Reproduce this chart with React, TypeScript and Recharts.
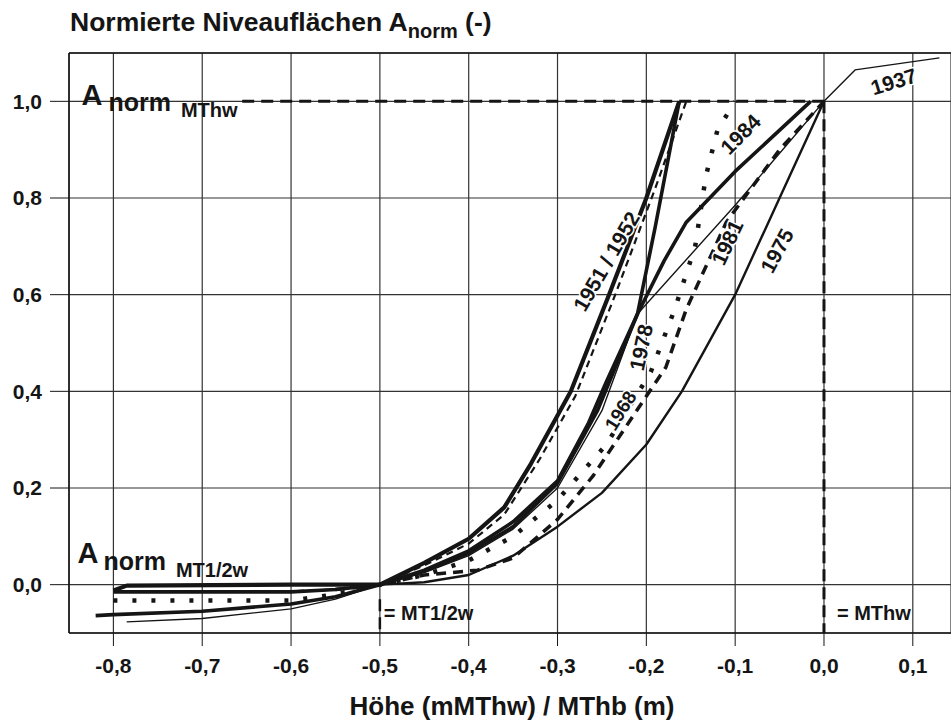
import { LineChart, Line, XAxis, YAxis, CartesianGrid, ReferenceLine, ReferenceDot } from "recharts";

type Pt = [number, number];

// axis ticks
const xTicks = [-0.8, -0.7, -0.6, -0.5, -0.4, -0.3, -0.2, -0.1, 0, 0.1];
const yTicks = [0, 0.2, 0.4, 0.6, 0.8, 1.0];

// curves: [Höhe (m), A_norm]
const c1951: Pt[] = [
  [-0.8, -0.012], [-0.785, -0.002], [-0.6, 0.0], [-0.5, 0.0], [-0.45, 0.045], [-0.4, 0.095],
  [-0.36, 0.16], [-0.33, 0.25], [-0.3, 0.35], [-0.285, 0.4], [-0.242, 0.6], [-0.2, 0.8], [-0.163, 1.0],
];
const c1952: Pt[] = [
  [-0.62, -0.015], [-0.55, -0.01], [-0.5, 0.0], [-0.45, 0.04], [-0.4, 0.085], [-0.36, 0.145],
  [-0.32, 0.26], [-0.28, 0.39], [-0.235, 0.6], [-0.19, 0.82], [-0.155, 1.0],
];
const c1978: Pt[] = [
  [-0.8, -0.015], [-0.6, -0.015], [-0.55, -0.01], [-0.5, 0.0], [-0.45, 0.03], [-0.4, 0.07],
  [-0.35, 0.13], [-0.3, 0.215], [-0.265, 0.335], [-0.245, 0.42], [-0.21, 0.56], [-0.19, 0.74], [-0.163, 1.0],
];
const c1984: Pt[] = [
  [-0.82, -0.064], [-0.8, -0.062], [-0.7, -0.055], [-0.6, -0.04], [-0.55, -0.025], [-0.5, 0.0],
  [-0.45, 0.028], [-0.4, 0.065], [-0.35, 0.12], [-0.3, 0.21], [-0.255, 0.36], [-0.21, 0.56],
  [-0.18, 0.67], [-0.155, 0.75], [-0.1, 0.855], [-0.015, 1.0],
];
const c1937: Pt[] = [
  [-0.785, -0.077], [-0.7, -0.07], [-0.6, -0.05], [-0.55, -0.03], [-0.5, 0.0], [-0.45, 0.025],
  [-0.4, 0.06], [-0.35, 0.115], [-0.3, 0.2], [-0.25, 0.36], [-0.21, 0.56], [-0.1, 0.785],
  [0.0, 1.0], [0.035, 1.065], [0.13, 1.09],
];
const c1968: Pt[] = [
  [-0.8, -0.033], [-0.6, -0.033], [-0.55, -0.02], [-0.5, 0.0], [-0.45, 0.02], [-0.4, 0.05],
  [-0.35, 0.1], [-0.3, 0.175], [-0.245, 0.29], [-0.195, 0.44], [-0.168, 0.57], [-0.145, 0.7],
  [-0.133, 0.845], [-0.12, 0.94], [-0.1, 1.0],
];
const c1981: Pt[] = [
  [-0.55, -0.01], [-0.5, 0.0], [-0.45, 0.02], [-0.39, 0.03], [-0.35, 0.055], [-0.3, 0.135],
  [-0.26, 0.225], [-0.2, 0.39], [-0.178, 0.45], [-0.155, 0.57], [-0.11, 0.75], [-0.05, 0.9], [0.0, 1.0],
];
const c1975: Pt[] = [
  [-0.5, 0.0], [-0.45, 0.005], [-0.4, 0.02], [-0.35, 0.06], [-0.3, 0.12], [-0.25, 0.19],
  [-0.2, 0.29], [-0.16, 0.4], [-0.1, 0.6], [-0.05, 0.8], [0.0, 1.0],
];

const series = [
  { name: "1937", pts: c1937, width: 1.4 },
  { name: "1975", pts: c1975, width: 2.4 },
  { name: "1968", pts: c1968, width: 4.5, dash: "4 15" },
  { name: "1981", pts: c1981, width: 3.5, dash: "10 7" },
  { name: "1952", pts: c1952, width: 2.2, dash: "7 5" },
  { name: "1984", pts: c1984, width: 3.6 },
  { name: "1978", pts: c1978, width: 3.6 },
  { name: "1951", pts: c1951, width: 4.2 },
];

// label anchors in data coords
const yearLabels = [
  { text: "1937", x: 0.0785, y: 1.041, angle: -17 },
  { text: "1984", x: -0.094, y: 0.932, angle: -45 },
  { text: "1981", x: -0.109, y: 0.708, angle: -65 },
  { text: "1975", x: -0.053, y: 0.691, angle: -62 },
  { text: "1951 / 1952", x: -0.245, y: 0.669, angle: -60 },
  { text: "1978", x: -0.206, y: 0.491, angle: -78 },
  { text: "1968", x: -0.229, y: 0.36, angle: -58 },
];

const fmt = (v: number) => v.toFixed(1).replace(".", ",");
const rows = (pts: Pt[]) => pts.map(([x, y]) => ({ x, y }));
const ink = "#151515";

export default function App() {
  return (
    <div style={{ position: "absolute", left: 0, top: 0, width: 951, height: 724, background: "#fff", fontFamily: "'Liberation Sans', Arial, sans-serif" }}>
      <LineChart width={951} height={724} margin={{ top: 53, right: 0, bottom: 0, left: 0 }}>
        <CartesianGrid stroke="#333" strokeWidth={1.2} />
        <XAxis
          type="number"
          dataKey="x"
          domain={[-0.85, 0.143]}
          ticks={xTicks}
          allowDataOverflow
          height={91}
          tickSize={13}
          tickMargin={12}
          tickFormatter={fmt}
          stroke={ink}
          axisLine={{ stroke: ink, strokeWidth: 1.5 }}
          tick={{ fill: ink, fontSize: 21, fontWeight: 700 }}
        />
        <YAxis
          type="number"
          dataKey="y"
          domain={[-0.1, 1.1]}
          ticks={yTicks}
          allowDataOverflow
          width={69}
          tickSize={19}
          tickMargin={8}
          tickFormatter={fmt}
          stroke={ink}
          axisLine={{ stroke: ink, strokeWidth: 1.5 }}
          tick={{ fill: ink, fontSize: 21, fontWeight: 700 }}
        />
        <ReferenceLine y={1.1} stroke={ink} strokeWidth={1.5} />
        <ReferenceLine segment={[{ x: -0.655, y: 1 }, { x: 0, y: 1 }]} stroke={ink} strokeWidth={3} strokeDasharray="12 7" />
        <ReferenceLine segment={[{ x: 0, y: 1 }, { x: 0, y: -0.1 }]} stroke={ink} strokeWidth={3} strokeDasharray="12 6" />
        <ReferenceLine segment={[{ x: -0.5, y: -0.03 }, { x: -0.5, y: -0.1 }]} stroke={ink} strokeWidth={2.5} strokeDasharray="12 6" />

        {series.map((s) => (
          <Line
            key={s.name}
            name={s.name}
            data={rows(s.pts)}
            dataKey="y"
            type="linear"
            stroke={ink}
            strokeWidth={s.width}
            strokeDasharray={s.dash}
            strokeLinejoin="round"
            dot={false}
            activeDot={false}
            isAnimationActive={false}
          />
        ))}

        {yearLabels.map((l) => (
          <ReferenceDot
            key={l.text}
            x={l.x}
            y={l.y}
            r={0}
            ifOverflow="visible"
            shape={(p: any) => (
              <text
                x={p.cx}
                y={p.cy}
                transform={`rotate(${l.angle} ${p.cx} ${p.cy})`}
                textAnchor="middle"
                dominantBaseline="central"
                fontSize={l.text === "1968" ? 19 : 21}
                fontWeight={700}
                fill={ink}
                stroke="#fff"
                strokeWidth={3}
                paintOrder="stroke"
              >
                {l.text}
              </text>
            )}
          />
        ))}

        <ReferenceDot
          x={-0.836}
          y={0.992}
          r={0}
          ifOverflow="visible"
          shape={(p: any) => (
            <text x={p.cx} y={p.cy} fill={ink} fontWeight={700}>
              <tspan fontSize={29}>A</tspan>
              <tspan fontSize={25} dx={6} dy={6}>norm</tspan>
              <tspan fontSize={20} dx={10} dy={6}>MThw</tspan>
            </text>
          )}
        />
        <ReferenceDot
          x={-0.8405}
          y={0.0455}
          r={0}
          ifOverflow="visible"
          shape={(p: any) => (
            <text x={p.cx} y={p.cy} fill={ink} fontWeight={700}>
              <tspan fontSize={29}>A</tspan>
              <tspan fontSize={25} dx={5} dy={7}>norm</tspan>
              <tspan fontSize={20} dx={10} dy={7}>MT1/2w</tspan>
            </text>
          )}
        />
        <ReferenceDot
          x={-0.4955}
          y={-0.0725}
          r={0}
          ifOverflow="visible"
          shape={(p: any) => (
            <text x={p.cx} y={p.cy} fill={ink} fontWeight={700} fontSize={20}>= MT1/2w</text>
          )}
        />
        <ReferenceDot
          x={0.0146}
          y={-0.0725}
          r={0}
          ifOverflow="visible"
          shape={(p: any) => (
            <text x={p.cx} y={p.cy} fill={ink} fontWeight={700} fontSize={20}>= MThw</text>
          )}
        />
      </LineChart>
      <svg width={951} height={724} style={{ position: "absolute", left: 0, top: 0, pointerEvents: "none" }}>
        <text x={70} y={31} fill={ink} fontWeight={700} fontSize={26.5}>
          Normierte Niveauflächen A
          <tspan fontSize={20} dy={7}>norm</tspan>
          <tspan fontSize={26.5} dy={-7}> (-)</tspan>
        </text>
        <text x={512} y={715} fill={ink} fontWeight={700} fontSize={26} textAnchor="middle">
          Höhe (mMThw) / MThb (m)
        </text>
      </svg>
    </div>
  );
}
